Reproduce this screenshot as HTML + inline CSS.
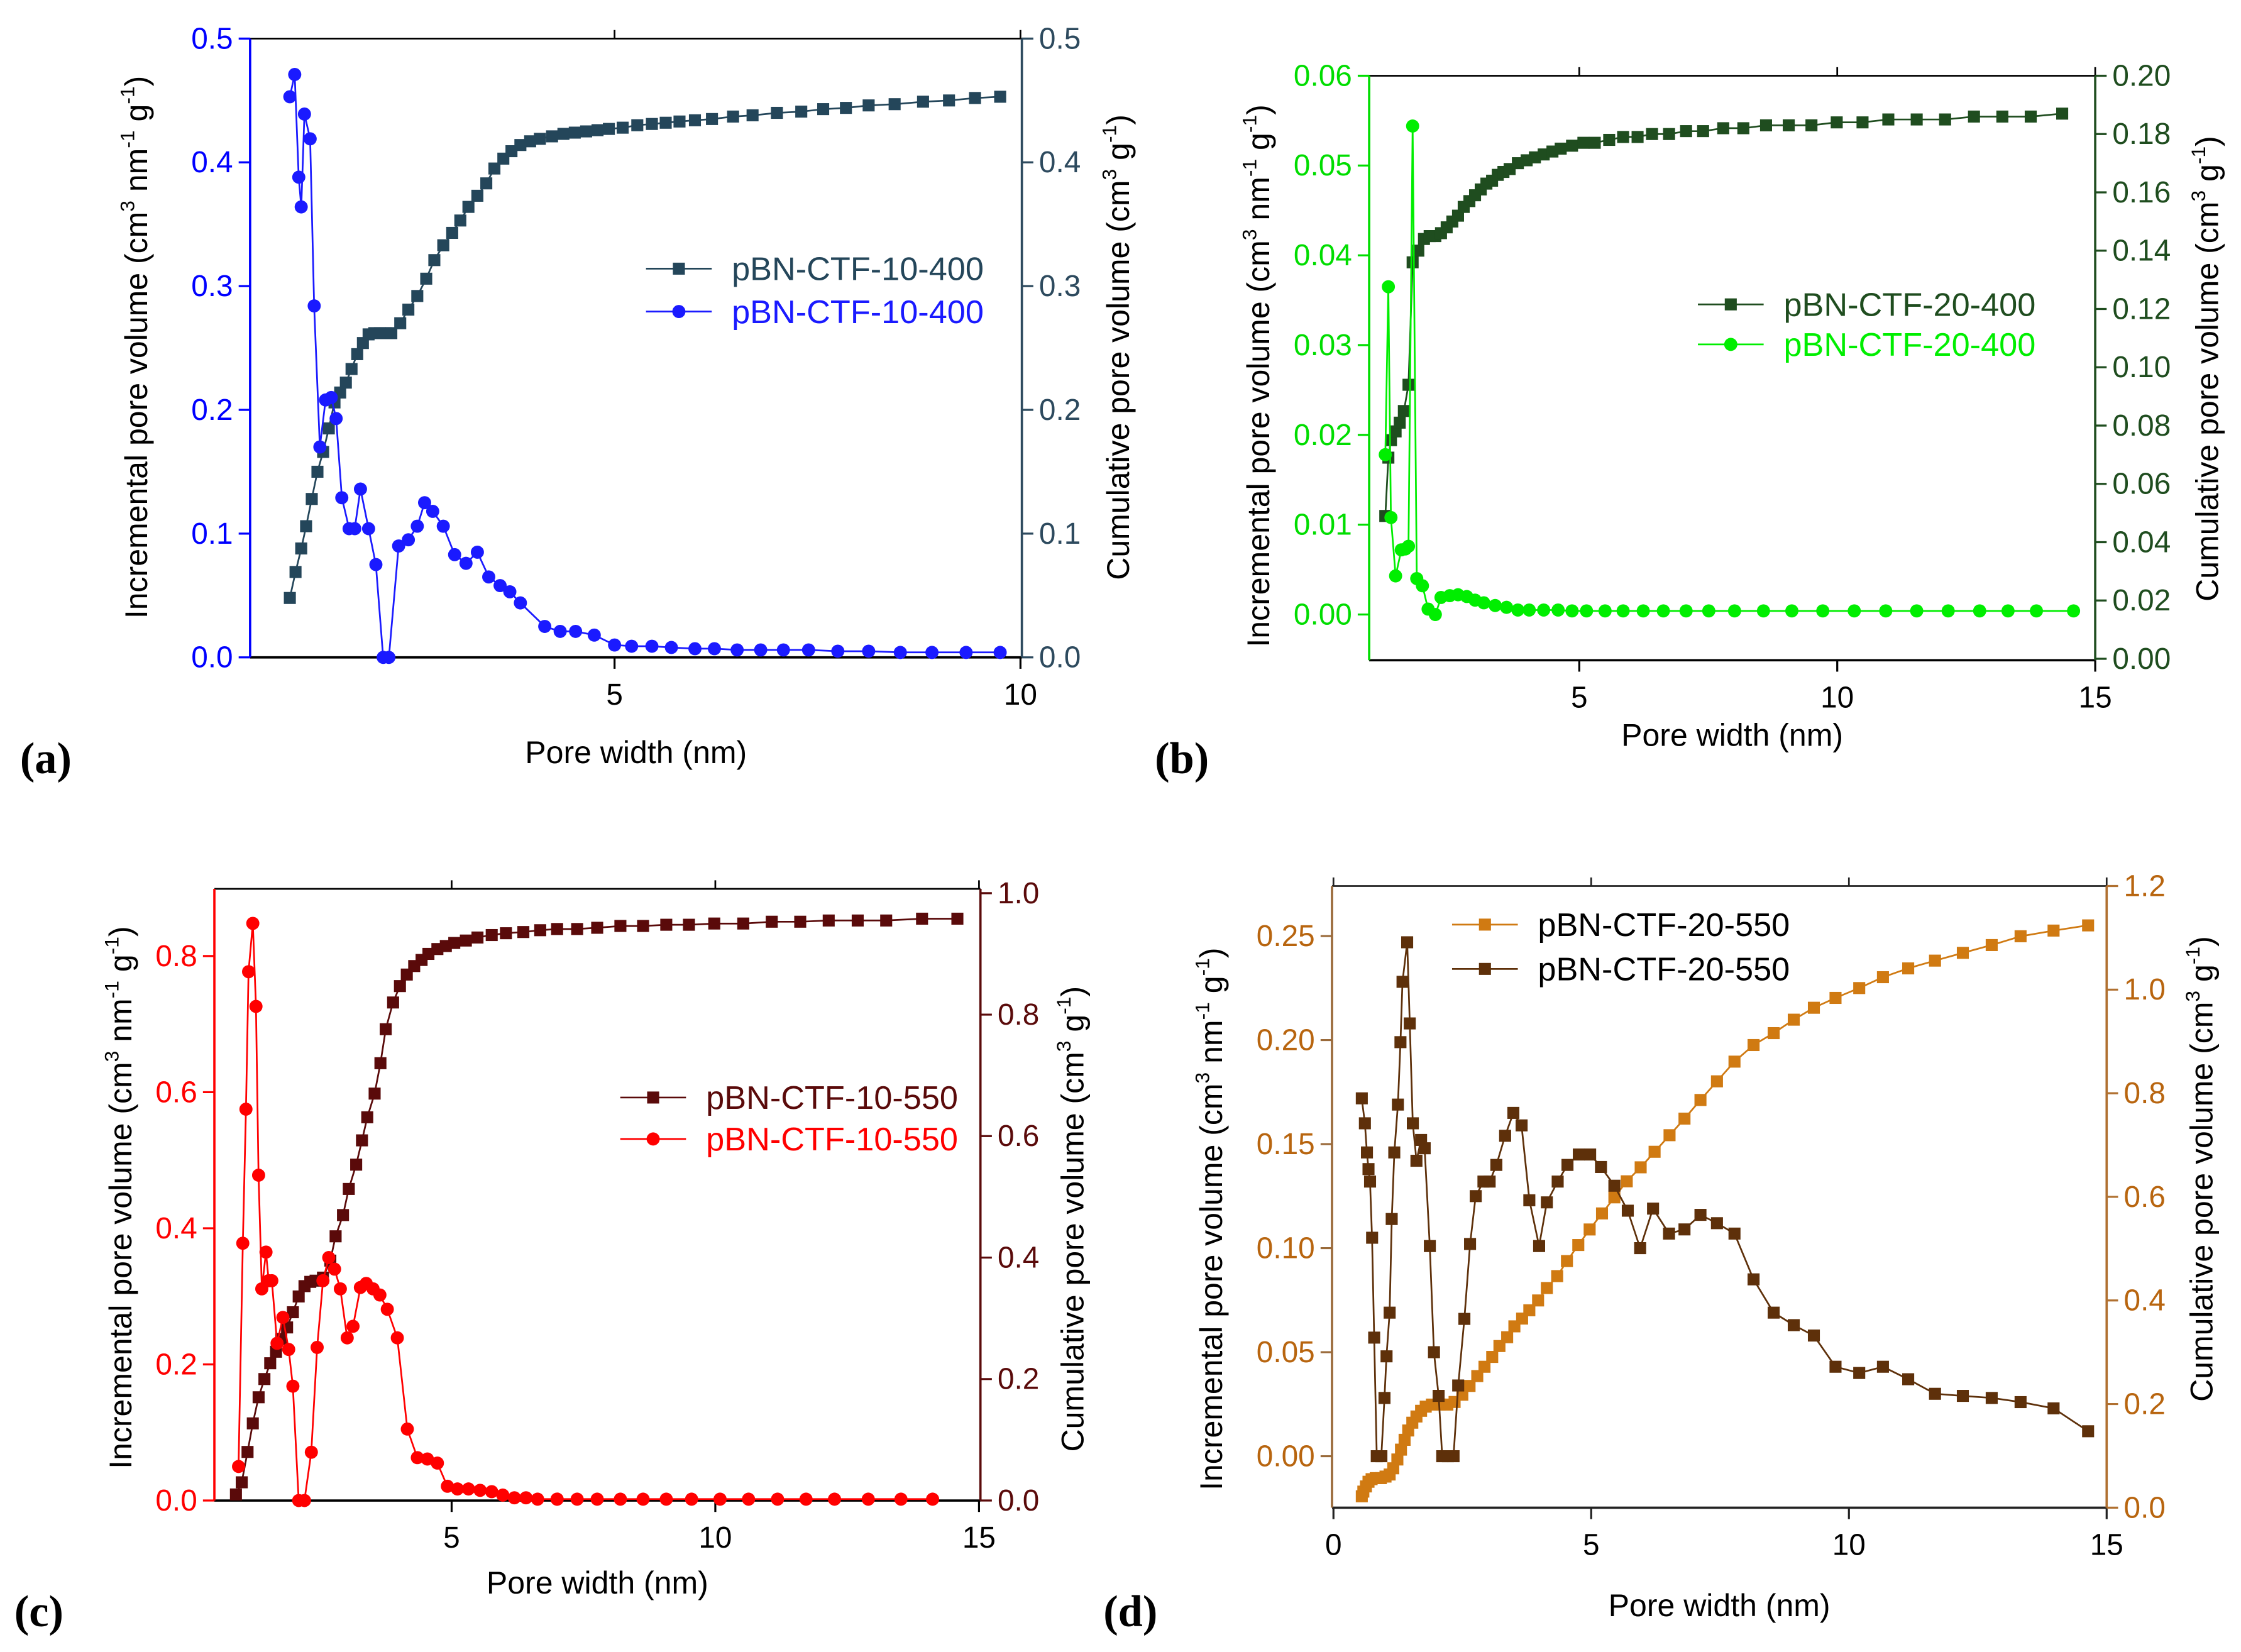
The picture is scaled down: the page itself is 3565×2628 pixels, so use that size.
<!DOCTYPE html>
<html><head><meta charset="utf-8"><style>
html,body{margin:0;padding:0;background:#fff;}
svg{display:block;}
text{font-family:"Liberation Sans",sans-serif;}
text.plab{font-family:"Liberation Serif",serif;}
</style></head><body>
<svg id="fig" xmlns="http://www.w3.org/2000/svg" width="3565" height="2628" viewBox="0 0 1568 1156" preserveAspectRatio="none">
</svg>
<script>
// ---- Panel (a) data ----
const aCumX=[1.0,1.07,1.14,1.2,1.27,1.34,1.41,1.48,1.55,1.62,1.69,1.76,1.83,1.9,1.97,2.04,2.11,2.18,2.25,2.36,2.46,2.57,2.68,2.78,2.89,3.0,3.1,3.2,3.31,3.42,3.52,3.63,3.73,3.84,3.96,4.08,4.23,4.37,4.51,4.65,4.79,4.93,5.1,5.28,5.46,5.63,5.8,5.99,6.2,6.46,6.7,7.0,7.3,7.57,7.85,8.13,8.45,8.8,9.12,9.44,9.75];
const aCumY=[0.048,0.069,0.088,0.106,0.128,0.150,0.166,0.185,0.206,0.214,0.222,0.233,0.245,0.254,0.261,0.262,0.262,0.262,0.262,0.270,0.281,0.292,0.306,0.321,0.333,0.343,0.353,0.364,0.373,0.383,0.395,0.403,0.409,0.414,0.417,0.419,0.421,0.423,0.424,0.425,0.426,0.427,0.428,0.430,0.431,0.432,0.433,0.434,0.435,0.437,0.438,0.440,0.441,0.443,0.444,0.446,0.447,0.449,0.450,0.452,0.453];
const aIncX=[1.0,1.06,1.11,1.14,1.18,1.25,1.30,1.37,1.44,1.51,1.57,1.64,1.73,1.80,1.87,1.97,2.06,2.15,2.22,2.34,2.46,2.57,2.66,2.76,2.89,3.03,3.17,3.31,3.45,3.59,3.71,3.84,4.14,4.33,4.52,4.75,5.0,5.21,5.46,5.70,5.99,6.23,6.51,6.80,7.08,7.39,7.75,8.13,8.52,8.91,9.33,9.75];
const aIncY=[0.453,0.471,0.388,0.364,0.439,0.419,0.284,0.170,0.208,0.210,0.193,0.129,0.104,0.104,0.136,0.104,0.075,0,0,0.090,0.095,0.106,0.125,0.118,0.106,0.083,0.076,0.085,0.065,0.058,0.053,0.044,0.025,0.021,0.021,0.018,0.010,0.009,0.009,0.008,0.007,0.007,0.006,0.006,0.006,0.006,0.005,0.005,0.004,0.004,0.004,0.004];
// ---- Panel (b) data ----
const bCumX=[1.24,1.30,1.35,1.44,1.52,1.60,1.69,1.77,1.88,1.99,2.10,2.21,2.32,2.43,2.54,2.65,2.76,2.87,2.98,3.09,3.20,3.31,3.42,3.53,3.65,3.81,3.98,4.14,4.31,4.48,4.64,4.86,5.08,5.30,5.58,5.85,6.13,6.41,6.74,7.07,7.40,7.79,8.18,8.62,9.06,9.50,9.99,10.49,10.99,11.54,12.09,12.65,13.20,13.75,14.36];
const bCumY=[0.049,0.069,0.075,0.078,0.081,0.085,0.094,0.136,0.140,0.144,0.145,0.145,0.146,0.148,0.150,0.152,0.155,0.157,0.159,0.161,0.163,0.164,0.166,0.167,0.168,0.170,0.171,0.172,0.173,0.174,0.175,0.176,0.177,0.177,0.178,0.179,0.179,0.180,0.180,0.181,0.181,0.182,0.182,0.183,0.183,0.183,0.184,0.184,0.185,0.185,0.185,0.186,0.186,0.186,0.187];
const bIncX=[1.24,1.30,1.35,1.44,1.55,1.63,1.69,1.77,1.85,1.96,2.07,2.21,2.32,2.49,2.65,2.82,2.98,3.15,3.37,3.59,3.81,4.03,4.31,4.59,4.86,5.14,5.50,5.85,6.24,6.63,7.07,7.51,8.01,8.57,9.12,9.72,10.33,10.94,11.54,12.15,12.76,13.31,13.86,14.58];
const bIncY=[0.0178,0.0365,0.0108,0.0043,0.0072,0.0073,0.0076,0.0544,0.0040,0.0032,0.0006,0.0000,0.0019,0.0021,0.0022,0.0020,0.0016,0.0013,0.0010,0.0008,0.0005,0.0005,0.0005,0.0005,0.0004,0.0004,0.0004,0.0004,0.0004,0.0004,0.0004,0.0004,0.0004,0.0004,0.0004,0.0004,0.0004,0.0004,0.0004,0.0004,0.0004,0.0004,0.0004,0.0004];
// ---- Panel (c) data ----
const cCumX=[0.91,1.02,1.13,1.23,1.34,1.45,1.56,1.67,1.77,1.88,1.99,2.10,2.21,2.32,2.42,2.56,2.70,2.80,2.94,3.05,3.19,3.30,3.40,3.54,3.65,3.75,3.89,4.02,4.15,4.29,4.43,4.56,4.73,4.89,5.05,5.27,5.49,5.76,6.03,6.36,6.68,7.00,7.38,7.76,8.20,8.63,9.07,9.50,9.98,10.53,11.07,11.61,12.15,12.70,13.24,13.92,14.59];
const cCumY=[0.01,0.03,0.08,0.127,0.17,0.20,0.226,0.245,0.266,0.285,0.31,0.336,0.353,0.36,0.362,0.367,0.395,0.435,0.47,0.513,0.553,0.593,0.631,0.67,0.72,0.776,0.82,0.847,0.866,0.88,0.89,0.90,0.908,0.913,0.918,0.922,0.927,0.931,0.934,0.936,0.939,0.941,0.941,0.943,0.946,0.946,0.948,0.948,0.950,0.950,0.953,0.953,0.955,0.955,0.955,0.958,0.958];
const cIncX=[0.96,1.04,1.10,1.15,1.23,1.29,1.34,1.40,1.48,1.53,1.59,1.69,1.80,1.91,1.99,2.10,2.21,2.34,2.45,2.56,2.67,2.78,2.89,3.02,3.13,3.27,3.38,3.51,3.64,3.78,3.97,4.16,4.35,4.54,4.73,4.92,5.11,5.32,5.54,5.76,5.97,6.19,6.41,6.63,7.00,7.00,7.38,7.76,8.20,8.63,9.07,9.55,10.09,10.63,11.18,11.72,12.26,12.90,13.52,14.12];
const cIncY=[0.05,0.378,0.575,0.777,0.848,0.726,0.478,0.311,0.365,0.323,0.323,0.231,0.269,0.222,0.168,0,0,0.071,0.225,0.323,0.357,0.340,0.311,0.239,0.256,0.313,0.319,0.311,0.302,0.281,0.239,0.105,0.063,0.061,0.055,0.021,0.017,0.017,0.015,0.013,0.008,0.004,0.004,0.002,0.002,0.002,0.002,0.002,0.002,0.002,0.002,0.002,0.002,0.002,0.002,0.002,0.002,0.002,0.002,0.002];
// ---- Panel (d) data ----
const dCumX=[0.55,0.58,0.63,0.68,0.74,0.82,0.92,1.01,1.09,1.16,1.24,1.31,1.38,1.45,1.53,1.61,1.70,1.79,1.91,2.06,2.21,2.35,2.50,2.64,2.79,2.93,3.08,3.22,3.37,3.51,3.66,3.80,3.97,4.14,4.34,4.53,4.75,4.97,5.21,5.45,5.69,5.96,6.23,6.52,6.81,7.12,7.44,7.78,8.15,8.54,8.93,9.32,9.74,10.20,10.66,11.15,11.67,12.21,12.77,13.33,13.97,14.64];
const dCumY=[0.022,0.031,0.041,0.050,0.055,0.057,0.057,0.060,0.064,0.076,0.093,0.112,0.131,0.149,0.164,0.176,0.187,0.195,0.199,0.199,0.199,0.204,0.218,0.235,0.254,0.272,0.291,0.312,0.329,0.350,0.365,0.381,0.400,0.424,0.447,0.476,0.507,0.537,0.568,0.599,0.630,0.657,0.687,0.719,0.751,0.787,0.823,0.861,0.893,0.916,0.942,0.965,0.984,1.003,1.024,1.041,1.056,1.071,1.086,1.103,1.114,1.124];
const dIncX=[0.55,0.61,0.65,0.68,0.71,0.75,0.79,0.84,0.93,0.99,1.03,1.09,1.13,1.18,1.25,1.30,1.34,1.43,1.48,1.54,1.61,1.70,1.77,1.87,1.95,2.04,2.11,2.22,2.33,2.42,2.54,2.65,2.76,2.91,3.03,3.16,3.33,3.49,3.65,3.80,3.99,4.14,4.35,4.54,4.76,4.98,5.19,5.45,5.71,5.95,6.20,6.51,6.81,7.12,7.44,7.78,8.15,8.54,8.93,9.32,9.74,10.20,10.66,11.15,11.67,12.21,12.77,13.33,13.97,14.64];
const dIncY=[0.172,0.160,0.146,0.138,0.132,0.105,0.057,0,0,0.028,0.048,0.069,0.114,0.146,0.169,0.199,0.228,0.247,0.208,0.160,0.142,0.152,0.148,0.101,0.050,0.029,0,0,0,0.034,0.066,0.102,0.125,0.132,0.132,0.140,0.154,0.165,0.159,0.123,0.101,0.122,0.132,0.140,0.145,0.145,0.139,0.130,0.118,0.100,0.119,0.107,0.109,0.116,0.112,0.107,0.085,0.069,0.063,0.058,0.043,0.040,0.043,0.037,0.030,0.029,0.028,0.026,0.023,0.012];
</script>
<script>
const NS="http://www.w3.org/2000/svg";
const svg=document.getElementById('fig');
function mk(tag,attrs,parent,txt){const e=document.createElementNS(NS,tag);for(const k in attrs)e.setAttribute(k,attrs[k]);if(txt!==undefined)e.textContent=txt;(parent||svg).appendChild(e);return e;}
function lin(v1,p1,v2,p2){return v=>p1+(v-v1)*(p2-p1)/(v2-v1);}

function panel(P){
  const g=mk('g',{});
  
  
  const X=lin(P.xs[0],P.xs[1],P.xs[2],P.xs[3]);
  const YL=lin(P.yl[0],P.yl[1],P.yl[2],P.yl[3]);
  const YR=lin(P.yr[0],P.yr[1],P.yr[2],P.yr[3]);
  const b=P.box;
  const bottom=mk('line',{x1:b.l,y1:b.b,x2:b.r,y2:b.b,stroke:P.bottomColor,'stroke-width':1.6},g);
  
  
  mk('line',{x1:b.l,y1:b.t,x2:b.r,y2:b.t,stroke:P.bottomColor,'stroke-width':1.2},g);
  const ls=mk('line',{x1:b.l,y1:b.t,x2:b.l,y2:b.b,stroke:P.lc,'stroke-width':1.6},g);
  
  
  const rs=mk('line',{x1:b.r,y1:b.t,x2:b.r,y2:b.b,stroke:P.rc,'stroke-width':1.6},g);
  
  
  P.xt.forEach(v=>{const x=X(v);
    mk('line',{x1:x,y1:b.b,x2:x,y2:b.b+8,stroke:P.bottomColor,'stroke-width':1.4},g);
    mk('line',{x1:x,y1:b.t,x2:x,y2:b.t-6,stroke:P.bottomColor,'stroke-width':1.2},g);
    const t=mk('text',{x:x,y:b.b+33,'font-size':21,'text-anchor':'middle',fill:P.xtc||'#000'},g,String(v));
    
    });
  P.ylt.forEach(v=>{const y=YL(v);
    mk('line',{x1:b.l,y1:y,x2:b.l-8,y2:y,stroke:P.lc,'stroke-width':1.4},g);
    const t=mk('text',{x:b.l-12,y:y+7,'font-size':21,'text-anchor':'end',fill:P.ltc},g,v.toFixed(P.ld));
    
    });
  P.yrt.forEach(v=>{const y=YR(v);
    mk('line',{x1:b.r,y1:y,x2:b.r+8,y2:y,stroke:P.rc,'stroke-width':1.4},g);
    const t=mk('text',{x:b.r+12,y:y+7,'font-size':21,'text-anchor':'start',fill:P.rtc},g,v.toFixed(P.rd));
    
    });
  const xt=mk('text',{x:(b.l+b.r)/2+P.xtOff,y:P.xtY,'font-size':22,'text-anchor':'middle',fill:'#000'},g,'Pore width (nm)');
  
  
  const lt=mk('text',{x:0,y:0,'font-size':22,'text-anchor':'middle',fill:'#000',transform:`translate(${P.ltX},${P.ltY}) rotate(-90)`},g);
  lt.innerHTML=P.ltText+' (cm<tspan font-size="14" dy="-9">3</tspan><tspan dy="9"> nm</tspan><tspan font-size="14" dy="-9">-1</tspan><tspan dy="9"> g</tspan><tspan font-size="14" dy="-9">-1</tspan><tspan dy="9">)</tspan>';
  
  
  const rt=mk('text',{x:0,y:0,'font-size':22,'text-anchor':'middle',fill:'#000',transform:`translate(${P.rtX},${P.rtY}) rotate(-90)`},g);
  rt.innerHTML='Cumulative pore volume (cm<tspan font-size="14" dy="-9">3</tspan><tspan dy="9"> g</tspan><tspan font-size="14" dy="-9">-1</tspan><tspan dy="9">)</tspan>';
  
  
  const pl=mk('text',{x:P.lab[0],y:P.lab[1],'font-size':31,'font-weight':'bold',fill:'#000','class':'plab'},g,P.lab[2]);
  
  
  function series(xs,ys,Y,color,shape,nm){
    const sg=mk('g',{},g);
    
    
    const pts=xs.map((x,i)=>X(x).toFixed(1)+','+Y(ys[i]).toFixed(1)).join(' ');
    mk('polyline',{points:pts,fill:'none',stroke:color,'stroke-width':1.2},sg);
    xs.forEach((x,i)=>{const px=X(x),py=Y(ys[i]);
      let m;
      if(shape==='sq') m=mk('rect',{x:px-4.2,y:py-4.2,width:8.4,height:8.4,fill:color},sg);
      else m=mk('circle',{cx:px,cy:py,r:4.6,fill:color},sg);
      
      });
  }
  series(P.cumX,P.cumY,YR,P.cumColor,'sq','cumulative-series');
  series(P.incX,P.incY,YL,P.incColor,P.incShape,'incremental-series');
  P.leg.forEach(L=>{
    const lg=mk('g',{},g);
    
    
    mk('line',{x1:L.x,y1:L.y,x2:L.x+46,y2:L.y,stroke:L.c,'stroke-width':1.2},lg);
    if(L.s==='sq') mk('rect',{x:L.x+23-4.2,y:L.y-4.2,width:8.4,height:8.4,fill:L.c},lg);
    else mk('circle',{cx:L.x+23,cy:L.y,r:4.6,fill:L.c},lg);
    mk('text',{x:L.x+60,y:L.y+8,'font-size':23,fill:L.tc},lg,L.t);
  });
}

panel({name:'panel-a',box:{l:175,r:715,t:27,b:460},xs:[5,430,10,714],yl:[0,460,0.5,27],yr:[0,460,0.5,27],
  bottomColor:'#000',lc:'#0000ff',rc:'#2d4a5e',ltc:'#0000ff',rtc:'#2d4a5e',ld:1,rd:1,
  xt:[5,10],ylt:[0,0.1,0.2,0.3,0.4,0.5],yrt:[0,0.1,0.2,0.3,0.4,0.5],
  xtOff:0,xtY:534,ltX:103,ltY:243,ltText:'Incremental pore volume',rtX:790,rtY:243,lab:[14,541,'(a)'],
  cumX:aCumX,cumY:aCumY,cumColor:'#24465a',incX:aIncX,incY:aIncY,incColor:'#1a1aff',incShape:'ci',
  leg:[{x:452,y:188,c:'#24465a',s:'sq',t:'pBN-CTF-10-400',tc:'#24465a'},{x:452,y:218,c:'#1a1aff',s:'ci',t:'pBN-CTF-10-400',tc:'#1a1aff'}]});

panel({name:'panel-b',box:{l:958,r:1466,t:53,b:462},xs:[5,1105,15,1466],yl:[0,430,0.06,53],yr:[0,461,0.2,53],
  bottomColor:'#000',lc:'#00dd00',rc:'#1f4d1f',ltc:'#00dd00',rtc:'#1f4d1f',ld:2,rd:2,
  xt:[5,10,15],ylt:[0,0.01,0.02,0.03,0.04,0.05,0.06],yrt:[0,0.02,0.04,0.06,0.08,0.1,0.12,0.14,0.16,0.18,0.2],
  xtOff:0,xtY:522,ltX:888,ltY:263,ltText:'Incremental pore volume',rtX:1552,rtY:258,lab:[808,541,'(b)'],
  cumX:bCumX,cumY:bCumY,cumColor:'#1f4d1f',incX:bIncX,incY:bIncY,incColor:'#00ee00',incShape:'ci',
  leg:[{x:1188,y:213,c:'#1f4d1f',s:'sq',t:'pBN-CTF-20-400',tc:'#1f4d1f'},{x:1188,y:241,c:'#00ee00',s:'ci',t:'pBN-CTF-20-400',tc:'#00ee00'}]});

panel({name:'panel-c',box:{l:150,r:686,t:622,b:1050},xs:[5,316,15,685],yl:[0,1050,0.8,669],yr:[0,1050,1,625],
  bottomColor:'#000',lc:'#ff0000',rc:'#5a0a0a',ltc:'#ff0000',rtc:'#5a0a0a',ld:1,rd:1,
  xt:[5,10,15],ylt:[0,0.2,0.4,0.6,0.8],yrt:[0,0.2,0.4,0.6,0.8,1.0],
  xtOff:0,xtY:1115,ltX:92,ltY:838,ltText:'Incremental pore volume',rtX:758,rtY:853,lab:[10,1138,'(c)'],
  cumX:cCumX,cumY:cCumY,cumColor:'#5a0a0a',incX:cIncX,incY:cIncY,incColor:'#ff0000',incShape:'ci',
  leg:[{x:434,y:768,c:'#5a0a0a',s:'sq',t:'pBN-CTF-10-550',tc:'#5a0a0a'},{x:434,y:797,c:'#ff0000',s:'ci',t:'pBN-CTF-10-550',tc:'#ff0000'}]});

panel({name:'panel-d',box:{l:932,r:1474,t:620,b:1055},xs:[0,933,15,1474],yl:[0,1019,0.25,655],yr:[0,1055,1.2,620],
  bottomColor:'#222',lc:'#9a6a3a',rc:'#b07030',ltc:'#b8650f',rtc:'#b8650f',ld:2,rd:1,
  xt:[0,5,10,15],ylt:[0,0.05,0.1,0.15,0.2,0.25],yrt:[0,0.2,0.4,0.6,0.8,1.0,1.2],
  xtOff:0,xtY:1131,ltX:855,ltY:853,ltText:'Incremental pore volume ',rtX:1548,rtY:818,lab:[772,1138,'(d)'],
  cumX:dCumX,cumY:dCumY,cumColor:'#d07a12',incX:dIncX,incY:dIncY,incColor:'#5e300a',incShape:'sq',
  leg:[{x:1016,y:647,c:'#d07a12',s:'sq',t:'pBN-CTF-20-550',tc:'#000'},{x:1016,y:678,c:'#5e300a',s:'sq',t:'pBN-CTF-20-550',tc:'#000'}]});
</script>
</body></html>
